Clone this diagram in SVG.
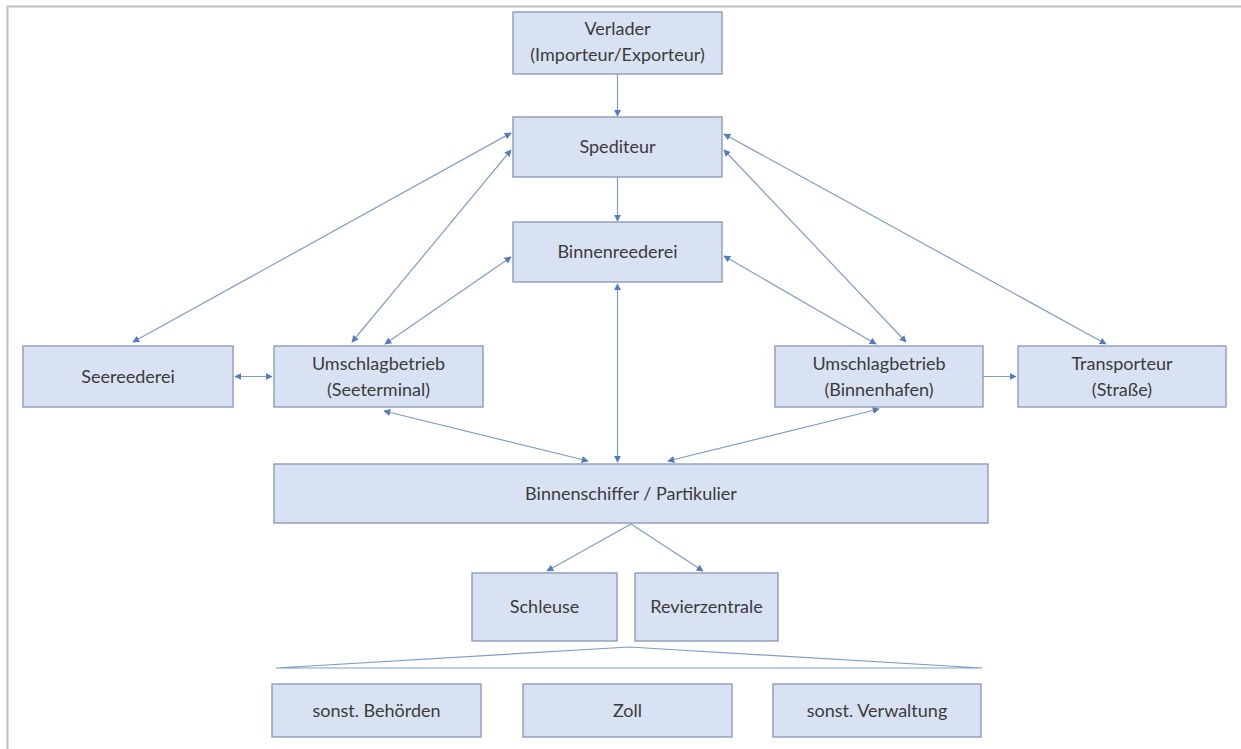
<svg xmlns="http://www.w3.org/2000/svg" width="1241" height="749" viewBox="0 0 1241 749">
<style>
.box{fill:#d9e2f3;stroke:#8796b3;stroke-width:1.3}
.t{font-family:Lato,"Liberation Sans",sans-serif;font-size:18px;fill:#3b3b3b;text-anchor:middle}
.c{stroke:#7f9dcc;stroke-width:1.2;fill:none}
.ca{stroke:#7f9dcc;stroke-width:1.2;fill:none;marker-end:url(#ah)}
.cb{stroke:#7f9dcc;stroke-width:1.2;fill:none;marker-start:url(#ah);marker-end:url(#ah)}
</style>
<defs>
<marker id="ah" viewBox="0 0 10 10" refX="9" refY="5" markerWidth="7" markerHeight="7" markerUnits="userSpaceOnUse" orient="auto-start-reverse">
<path d="M0,0 L10,5 L0,10 z" fill="#4f7cc4"/>
</marker>
</defs>
<rect width="1241" height="749" fill="#ffffff"/>
<path d="M7.5,749 V6.5 H1241" fill="none" stroke="#bfbfbf" stroke-width="2"/>

<g id="connectors">
<line class="ca" x1="617.5" y1="74" x2="617.5" y2="116"/>
<line class="ca" x1="617.5" y1="177" x2="617.5" y2="221"/>
<line class="cb" x1="511" y1="133" x2="133" y2="342"/>
<line class="cb" x1="511" y1="150" x2="352" y2="342"/>
<line class="cb" x1="511" y1="257" x2="385" y2="344"/>
<line class="cb" x1="724" y1="134" x2="1106" y2="344"/>
<line class="cb" x1="724" y1="150" x2="906" y2="342"/>
<line class="cb" x1="724" y1="256" x2="876" y2="344"/>
<line class="cb" x1="235" y1="376.5" x2="272" y2="376.5"/>
<line class="ca" x1="983" y1="376.5" x2="1016" y2="376.5"/>
<line class="cb" x1="617.5" y1="284" x2="617.5" y2="462"/>
<line class="cb" x1="384" y1="411" x2="588" y2="461"/>
<line class="cb" x1="879" y1="409" x2="668" y2="461"/>
<line class="ca" x1="631" y1="524" x2="547" y2="571"/>
<line class="ca" x1="631" y1="524" x2="703" y2="571"/>
<path class="c" d="M276,668 L629,647 L982,668 Z" stroke="#8a96aa"/>
</g>

<g id="verlader"><rect class="box" x="513" y="12" width="209" height="62"/>
<text class="t" x="617.5" y="35">Verlader</text><text class="t" x="617.5" y="61">(Importeur/Exporteur)</text></g>
<g id="spediteur"><rect class="box" x="513" y="117" width="209" height="60"/>
<text class="t" x="617.5" y="153">Spediteur</text></g>
<g id="binnenreederei"><rect class="box" x="513" y="222" width="209" height="60"/>
<text class="t" x="617.5" y="258">Binnenreederei</text></g>
<g id="seereederei"><rect class="box" x="23" y="346" width="210" height="61"/>
<text class="t" x="128" y="383">Seereederei</text></g>
<g id="seeterminal"><rect class="box" x="274" y="346" width="209" height="61"/>
<text class="t" x="378.5" y="370">Umschlagbetrieb</text><text class="t" x="378.5" y="396">(Seeterminal)</text></g>
<g id="binnenhafen"><rect class="box" x="775" y="346" width="208" height="61"/>
<text class="t" x="879" y="370">Umschlagbetrieb</text><text class="t" x="879" y="396">(Binnenhafen)</text></g>
<g id="transporteur"><rect class="box" x="1018" y="346" width="208" height="61"/>
<text class="t" x="1122" y="370">Transporteur</text><text class="t" x="1122" y="396">(Straße)</text></g>
<g id="binnenschiffer"><rect class="box" x="274" y="464" width="714" height="59"/>
<text class="t" x="631" y="500">Binnenschiffer / Partikulier</text></g>
<g id="schleuse"><rect class="box" x="472" y="573" width="145" height="68"/>
<text class="t" x="544.5" y="613">Schleuse</text></g>
<g id="revierzentrale"><rect class="box" x="635" y="573" width="143" height="68"/>
<text class="t" x="706.5" y="613">Revierzentrale</text></g>
<g id="behoerden"><rect class="box" x="272" y="684" width="209" height="53"/>
<text class="t" x="376.5" y="717">sonst. Behörden</text></g>
<g id="zoll"><rect class="box" x="523" y="684" width="209" height="53"/>
<text class="t" x="627.5" y="717">Zoll</text></g>
<g id="verwaltung"><rect class="box" x="773" y="684" width="208" height="53"/>
<text class="t" x="877" y="717">sonst. Verwaltung</text></g>
</svg>
